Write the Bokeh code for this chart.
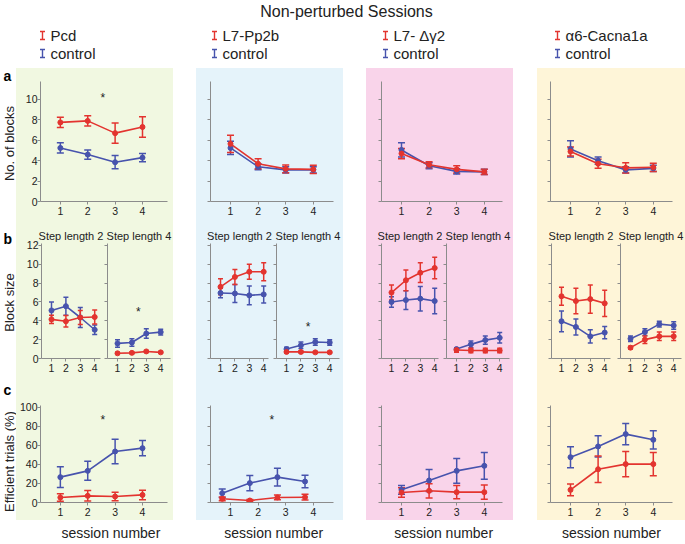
from bokeh.plotting import figure
from bokeh.models import ColumnDataSource, Whisker, TeeHead, Range1d, Spacer, FixedTicker
from bokeh.layouts import row, column
from bokeh.embed import file_html
from bokeh.resources import INLINE
from bokeh.core.properties import value
import math

FONT = "Liberation Sans"
RED = "#e3342f"
BLUE = "#4753ad"
AXIS = "#8c8c8c"
TXT = "#222222"
BG = ["#f1f8e1", "#e5f3fa", "#f9d4ea", "#fef5d8"]

# ---------------- data ----------------
title_text = "Non-perturbed Sessions"
mutants = ["Pcd", "L7-Pp2b", "L7- Δγ2", "α6-Cacna1a"]
control_label = "control"
row_labels = ["a", "b", "c"]
ylabels = ["No. of blocks", "Block size", "Efficient trials (%)"]
sub_titles = ["Step length 2", "Step length 4"]
xlabel = "session number"
sessions = [1, 2, 3, 4]
sessions_c2 = [0.7, 1.7, 2.7, 3.7]

# row a: number of blocks
a_mut = [[7.75, 7.9, 6.7, 7.3], [5.65, 3.7, 3.2, 3.15], [4.7, 3.6, 3.15, 2.9], [4.9, 3.7, 3.3, 3.35]]
a_mut_err = [[0.5, 0.5, 1.0, 1.0], [0.85, 0.5, 0.38, 0.4], [0.5, 0.3, 0.35, 0.25], [0.45, 0.45, 0.5, 0.4]]
a_ctl = [[5.25, 4.6, 3.85, 4.3], [5.25, 3.4, 3.1, 3.1], [5.05, 3.5, 2.95, 2.9], [5.15, 4.0, 3.1, 3.25]]
a_ctl_err = [[0.5, 0.45, 0.65, 0.4], [0.65, 0.3, 0.3, 0.3], [0.7, 0.3, 0.25, 0.25], [0.8, 0.35, 0.3, 0.3]]

# row b: block size, step length 2
b2_mut = [[4.15, 3.95, 4.35, 4.4], [7.6, 8.65, 9.2, 9.2], [7.0, 8.3, 9.1, 9.6], [6.6, 6.1, 6.3, 5.85]]
b2_mut_err = [[0.45, 0.6, 0.75, 0.75], [0.85, 0.8, 0.8, 0.95], [0.8, 1.1, 1.05, 1.15], [0.95, 1.35, 1.5, 1.4]]
b2_ctl = [[5.1, 5.55, 4.35, 3.05], [6.95, 6.9, 6.7, 6.8], [6.0, 6.2, 6.35, 6.1], [3.95, 3.35, 2.35, 2.75]]
b2_ctl_err = [[0.9, 0.95, 1.05, 0.5], [0.5, 0.95, 1.0, 0.9], [0.55, 1.0, 1.3, 1.35], [1.1, 0.85, 0.7, 0.65]]
# row b: block size, step length 4
b4_mut = [[0.55, 0.6, 0.75, 0.65], [0.7, 0.7, 0.65, 0.65], [0.9, 0.85, 0.85, 0.85], [1.15, 2.0, 2.35, 2.35]]
b4_mut_err = [[0.1, 0.1, 0.1, 0.1], [0.12, 0.1, 0.1, 0.1], [0.25, 0.25, 0.25, 0.25], [0.15, 0.4, 0.45, 0.45]]
b4_ctl = [[1.6, 1.7, 2.65, 2.8], [1.0, 1.4, 1.75, 1.7], [1.0, 1.5, 1.95, 2.2], [2.1, 2.8, 3.65, 3.5]]
b4_ctl_err = [[0.4, 0.4, 0.5, 0.3], [0.2, 0.35, 0.35, 0.3], [0.15, 0.35, 0.45, 0.55], [0.3, 0.35, 0.3, 0.4]]

# row c: efficient trials (%)
c_mut = [[5.3, 7.0, 6.3, 8.0], [3.9, 2.1, 5.3, 5.6], [10.5, 12.3, 10.9, 10.9], [13.3, 35.0, 40.4, 40.4]]
c_mut_err = [[4, 5.5, 4.5, 5], [2, 1, 2.5, 3], [5, 7.5, 7, 7.5], [6.3, 14, 13.2, 12.3]]
c_ctl = [[26.7, 33.3, 53.7, 57.2], [9.8, 20.4, 26.7, 22.1], [13.3, 23.2, 33.3, 38.6], [47.7, 59.0, 72.0, 66.0]]
c_ctl_err = [[11, 10, 13, 8], [4.5, 8, 9.3, 6.7], [4.5, 11.5, 13, 14], [11, 11.2, 11.2, 9.6]]
c_x = [sessions, sessions_c2, sessions, sessions]

# significance marks (x, y)
a_stars = {0: (2.55, 10.4)}
b4_stars = {0: (2.45, 5.2), 1: (2.5, 3.7)}
c_stars = {0: (2.55, 89.8), 1: (2.5, 90.0)}

yticks_a = [0, 2, 4, 6, 8, 10]
yticks_b = [0, 2, 4, 6, 8, 10, 12]
yticks_c = [0, 20, 40, 60, 80, 100]
ytop = [11.76, 12.2, 102.1]

# ---------------- layout geometry (px) ----------------
LABW = 16
col_w = [157, 147, 147, 148]
gaps = [23, 23, 24]
ac_border = [(23, 6), (14, 10), (15, 11), (13, 13)]
b_geom = [((88, 25, 4), (69, 3, 3)), ((76, 14, 4), (71, 4, 4)),
          ((76, 15, 4), (71, 4, 4)), ((77, 14, 4), (71, 6, 4))]
HH, HA, HB, HC, HF = 68, 157, 153, 142, 20
A_TB, B_TB, C_TB = (13, 24), (18, 20), (27, 18)
PX_AC, PX_B = 27.6, 14.4


def base_fig(w, h, bl, br, bt, bb, xr, yr, bg, title=None):
    kw = dict(width=w, height=h, x_range=xr, y_range=yr,
              min_border_left=bl, min_border_right=br, min_border_top=bt, min_border_bottom=bb,
              toolbar_location=None, output_backend="svg",
              background_fill_color=bg, border_fill_color=bg,
              outline_line_color=bg, outline_line_width=1.5,
              styles={"background-color": bg})
    if title is not None:
        kw["title"] = title
    p = figure(**kw)
    p.xgrid.visible = False
    p.ygrid.visible = False
    return p


def style_axes(p, yticks, show_ylabels):
    p.xaxis.ticker = FixedTicker(ticks=sessions)
    p.yaxis.ticker = FixedTicker(ticks=yticks)
    for ax in p.axis:
        ax.axis_line_color = AXIS
        ax.axis_line_width = 1
        ax.major_tick_line_color = AXIS
        ax.minor_tick_line_color = None
        ax.major_tick_in = 0
        ax.major_tick_out = 3
        ax.major_label_text_font = FONT
        ax.major_label_text_font_size = "10.5px"
        ax.major_label_text_color = TXT
    p.xaxis.major_label_standoff = 2
    p.yaxis.major_label_standoff = 0
    if not show_ylabels:
        p.yaxis.major_label_text_color = None
        p.yaxis.major_label_text_font_size = "1px"


def draw(p, x, y, err, color, head):
    src = ColumnDataSource(dict(x=x, y=y,
                                lo=[v - e for v, e in zip(y, err)],
                                hi=[v + e for v, e in zip(y, err)]))
    p.add_layout(Whisker(source=src, base="x", lower="lo", upper="hi",
                         line_color=color, line_width=1.5,
                         upper_head=TeeHead(size=head, line_color=color, line_width=1.5),
                         lower_head=TeeHead(size=head, line_color=color, line_width=1.5)))
    p.line("x", "y", source=src, line_color=color, line_width=1.6)
    p.scatter("x", "y", source=src, size=5, color=color)


def star(p, pos):
    p.text(x=[pos[0]], y=[pos[1]], text=["*"], text_font=value(FONT), text_font_size="12px",
           text_align="center", text_baseline="middle", text_color=TXT, y_offset=3)


cols = []
for k in range(4):
    cw = col_w[k]
    bg = BG[k]
    bl, br = ac_border[k]
    fw = cw - bl - br
    xr_ac = Range1d(1 - 20 / PX_AC, 1 - 20 / PX_AC + fw / PX_AC)

    # row a
    pa = base_fig(cw, HA, bl, br, A_TB[0], A_TB[1], xr_ac, Range1d(0, ytop[0]), bg)
    style_axes(pa, yticks_a, k == 0)
    draw(pa, sessions, a_ctl[k], a_ctl_err[k], BLUE, 7)
    draw(pa, sessions, a_mut[k], a_mut_err[k], RED, 7)
    if k in a_stars:
        star(pa, a_stars[k])

    # row b
    subs = []
    for j, (w, sbl, sbr) in enumerate(b_geom[k]):
        sfw = w - sbl - sbr
        xr_b = Range1d(1 - 10 / PX_B, 1 - 10 / PX_B + sfw / PX_B)
        pb = base_fig(w, HB, sbl, sbr, B_TB[0], B_TB[1], xr_b, Range1d(0, ytop[1]), bg,
                      title=sub_titles[j])
        pb.title.align = "center"
        pb.title.text_font = FONT
        pb.title.text_font_size = "11px"
        pb.title.text_font_style = "normal"
        pb.title.text_color = TXT
        pb.title.standoff = 4
        style_axes(pb, yticks_b, k == 0 and j == 0)
        if j == 0:
            draw(pb, sessions, b2_ctl[k], b2_ctl_err[k], BLUE, 5)
            draw(pb, sessions, b2_mut[k], b2_mut_err[k], RED, 5)
        else:
            draw(pb, sessions, b4_ctl[k], b4_ctl_err[k], BLUE, 5)
            draw(pb, sessions, b4_mut[k], b4_mut_err[k], RED, 5)
            if k in b4_stars:
                star(pb, b4_stars[k])
        subs.append(pb)

    # row c
    pc = base_fig(cw, HC, bl, br, C_TB[0], C_TB[1], xr_ac, Range1d(0, ytop[2]), bg)
    style_axes(pc, yticks_c, k == 0)
    draw(pc, c_x[k], c_ctl[k], c_ctl_err[k], BLUE, 7)
    draw(pc, c_x[k], c_mut[k], c_mut_err[k], RED, 7)
    if k in c_stars:
        star(pc, c_stars[k])

    # footer
    pf = figure(width=cw, height=HF, x_range=Range1d(0, cw), y_range=Range1d(HF, 0),
                x_axis_type=None, y_axis_type=None, min_border=0, toolbar_location=None,
                output_backend="svg", outline_line_color=None)
    pf.text(x=[bl + fw / 2], y=[12], text=[xlabel], text_font=value(FONT),
            text_font_size="14px", text_align="center", text_baseline="middle", text_color=TXT)

    cols.append(column(pa, row(*subs, spacing=0, styles={"background-color": bg}),
                       pc, pf, spacing=0))

# label column (panel letters + y axis titles); y measured down from the coloured top
LH = HA + HB + HC + HF
pl = figure(width=LABW, height=LH, x_range=Range1d(0, LABW), y_range=Range1d(LH, 0),
            x_axis_type=None, y_axis_type=None, min_border=0, toolbar_location=None,
            output_backend="svg", outline_line_color=None)
pl.text(x=[3, 3, 3], y=[7, 170, 321], text=row_labels, text_font=value(FONT),
        text_font_size="14px", text_font_style="bold", text_align="left", text_baseline="middle",
        text_color="#000000")
pl.text(x=[8.5, 8.5, 8.5], y=[75, 234, 393], text=ylabels, text_font=value(FONT),
        text_font_size="13px", text_align="center", text_baseline="middle", angle=math.pi / 2,
        text_color=TXT)

# header (title + legends); y measured down from the page top
TOTW = LABW + sum(col_w) + sum(gaps)
ph = figure(width=TOTW, height=HH, x_range=Range1d(0, TOTW), y_range=Range1d(HH, 0),
            x_axis_type=None, y_axis_type=None, min_border=0, toolbar_location=None,
            output_backend="svg", outline_line_color=None)
ph.text(x=[346], y=[11], text=[title_text], text_font=value(FONT), text_font_size="16px",
        text_align="center", text_baseline="middle", text_color=TXT)
legend_x = [42, 214, 385, 557]
for k in range(4):
    for yc, colr, lab in ((35, RED, mutants[k]), (53, BLUE, control_label)):
        lsrc = ColumnDataSource(dict(x=[legend_x[k]], lo=[yc - 4], hi=[yc + 4]))
        ph.add_layout(Whisker(source=lsrc, base="x", lower="lo", upper="hi",
                              line_color=colr, line_width=1.4,
                              upper_head=TeeHead(size=5, line_color=colr, line_width=1.4),
                              lower_head=TeeHead(size=5, line_color=colr, line_width=1.4)))
        ph.text(x=[legend_x[k] + 8], y=[yc], text=[lab], text_font=value(FONT),
                text_font_size="15px", text_align="left", text_baseline="middle", text_color=TXT)

body = [pl, cols[0]]
for k in range(3):
    body.append(Spacer(width=gaps[k], height=LH))
    body.append(cols[k + 1])

layout = column(ph, row(*body, spacing=0), spacing=0)
open("out.html", "w").write(file_html(layout, INLINE))
